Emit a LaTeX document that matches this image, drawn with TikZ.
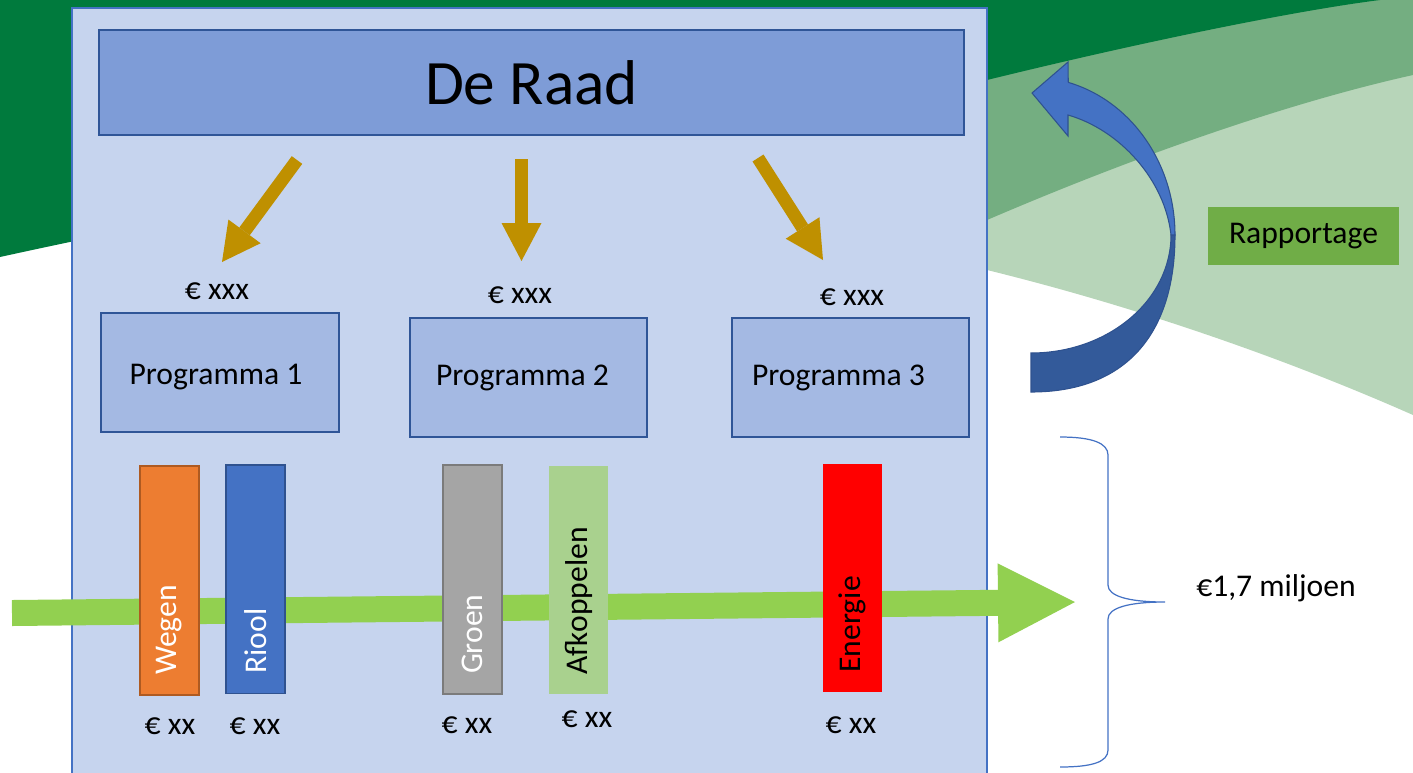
\documentclass[tikz,border=0pt]{standalone}
\usepackage{fontspec}
\setmainfont{Carlito}
\usetikzlibrary{arrows.meta}

\definecolor{darkgreen}{HTML}{007A3D}
\definecolor{midgreen}{HTML}{74AE81}
\definecolor{lightgreen}{HTML}{B7D5B9}
\definecolor{panelfill}{HTML}{C6D4EE}
\definecolor{panelline}{HTML}{4472C4}
\definecolor{raadfill}{HTML}{7E9CD7}
\definecolor{raadline}{HTML}{2F5597}
\definecolor{progfill}{HTML}{A4B9E3}
\definecolor{gold}{HTML}{BF9000}
\definecolor{flowgreen}{HTML}{92D050}
\definecolor{wegen}{HTML}{ED7D31}
\definecolor{wegenline}{HTML}{AE5A21}
\definecolor{riool}{HTML}{4472C4}
\definecolor{rioolline}{HTML}{2F528F}
\definecolor{groen}{HTML}{A5A5A5}
\definecolor{groenline}{HTML}{7B7B7B}
\definecolor{afkop}{HTML}{A9D18E}
\definecolor{energie}{HTML}{FF0000}
\definecolor{rapport}{HTML}{70AD47}
\definecolor{arrowlight}{HTML}{4472C4}
\definecolor{arrowdark}{HTML}{335A9A}

\newcommand{\fs}{\fontsize{18}{22}\selectfont}

\begin{document}
\begin{tikzpicture}[x=0.02cm, y=0.02cm,
    prog/.style={draw=raadline, line width=1.2pt, fill=progfill,
        minimum width=4.75cm, minimum height=2.38cm, font=\fs},
    bar/.style={rotate=90, minimum width=4.58cm, minimum height=1.18cm,
        inner xsep=0.4cm, text width=3.78cm, align=left, font=\fs,
        line width=1.1pt},
    euro/.style={font=\fs, inner sep=0pt},
    goldarrow/.style={draw=gold, line width=0.26cm,
        -{Triangle[width=0.8cm, length=0.76cm, line width=0pt]}},
    flow/.style={draw=flowgreen, line width=0.52cm,
        -{Triangle[width=1.58cm, length=1.54cm, line width=0pt]}}]

\useasboundingbox (0,0) rectangle (1413,-772);
\clip (0,0) rectangle (1413,-772);

\fill[lightgreen] (0,0) -- (1413,0) -- (1413,-415)
    .. controls (1300,-365) and (1150,-310) .. (987,-270)
    .. controls (600,-235) and (200,-225) .. (0,-225) -- cycle;
\fill[midgreen] (0,0) -- (1413,0) -- (1413,-75)
    .. controls (1300,-100) and (1150,-150) .. (987,-220)
    .. controls (600,-205) and (200,-200) .. (0,-200) -- cycle;
\fill[darkgreen] (0,0) -- (1380,0)
    .. controls (1300,-10) and (1150,-40) .. (987,-80)
    .. controls (800,-110) and (350,-180) .. (0,-257) -- cycle;

\draw[draw=panelline, line width=1.1pt, fill=panelfill] (72,-8) rectangle (987,-800);

\node[draw=raadline, line width=1.2pt, fill=raadfill, minimum width=17.3cm,
    minimum height=2.1cm, font=\fontsize{36}{43}\selectfont] (raad) at (531.5,-82.5) {De Raad};

\coordinate (g1a) at (297,-160);
\coordinate (g1b) at (222,-262);
\coordinate (g2a) at (521.5,-159);
\coordinate (g2b) at (521.5,-261);
\coordinate (g3a) at (758,-158);
\coordinate (g3b) at (823,-260);
\draw[goldarrow] (g1a) -- (g1b);
\draw[goldarrow] (g2a) -- (g2b);
\draw[goldarrow] (g3a) -- (g3b);

\node[euro] (xxx1) at (217,-291) {€ xxx};
\node[euro] (xxx2) at (520,-295) {€ xxx};
\node[euro] (xxx3) at (852,-297) {€ xxx};

\node[prog, text height=16.5pt] (p1) at (220,-372.5) {Programma 1\hspace*{0.16cm}};
\node[prog] (p2) at (528.5,-377.5) {Programma 2\hspace*{0.24cm}};
\node[prog] (p3) at (850.5,-377.5) {Programma 3\hspace*{0.48cm}};

\coordinate (fa) at (12,-613);
\coordinate (fb) at (1075,-602);
\draw[flow] (fa) -- (fb);

\node[bar, fill=wegen, draw=wegenline, text=white] (wegen) at (169.5,-580.5) {Wegen};
\node[bar, fill=riool, draw=rioolline, text=white] (riool) at (255.5,-579) {Riool};
\node[bar, fill=groen, draw=groenline, text=white] (groen) at (472.5,-579.5) {Groen};
\node[bar, fill=afkop] (afkop) at (578.5,-580) {Afkoppelen};
\node[bar, fill=energie] (energie) at (852.5,-578) {Energie};

\node[euro] (xx1) at (170,-726) {€ xx};
\node[euro] (xx2) at (255,-726) {€ xx};
\node[euro] (xx3) at (467,-725) {€ xx};
\node[euro] (xx4) at (587,-719) {€ xx};
\node[euro] (xx5) at (851,-725) {€ xx};

\draw[panelline, line width=0.7pt] (1060,-437)
    .. controls (1092,-437) and (1108,-443) .. (1108,-455) -- (1108,-585)
    .. controls (1108,-596) and (1128,-602) .. (1165,-602)
    .. controls (1128,-602) and (1108,-608) .. (1108,-619) -- (1108,-750)
    .. controls (1108,-762) and (1092,-767) .. (1060,-767);
\node[euro] (totaal) at (1276,-588) {€1,7 miljoen};

\filldraw[fill=arrowdark, draw=rioolline, line width=0.6pt] (1031,-392)
    .. controls (1125,-392) and (1175,-335) .. (1175,-235)
    -- (1171,-235) arc[start angle=0, end angle=-90, x radius=140, y radius=118] -- cycle;
\filldraw[fill=arrowlight, draw=rioolline, line width=0.6pt] (1175,-235)
    arc[start angle=0, end angle=75, x radius=144, y radius=158]
    -- (1068,-62) -- (1032,-93) -- (1068,-136) -- (1068,-115)
    .. controls (1120,-130) and (1165,-180) .. (1171,-235) -- cycle;

\node[fill=rapport, minimum width=3.82cm, minimum height=1.16cm, font=\fs] (rap) at (1303.5,-236) {Rapportage};

\end{tikzpicture}
\end{document}
